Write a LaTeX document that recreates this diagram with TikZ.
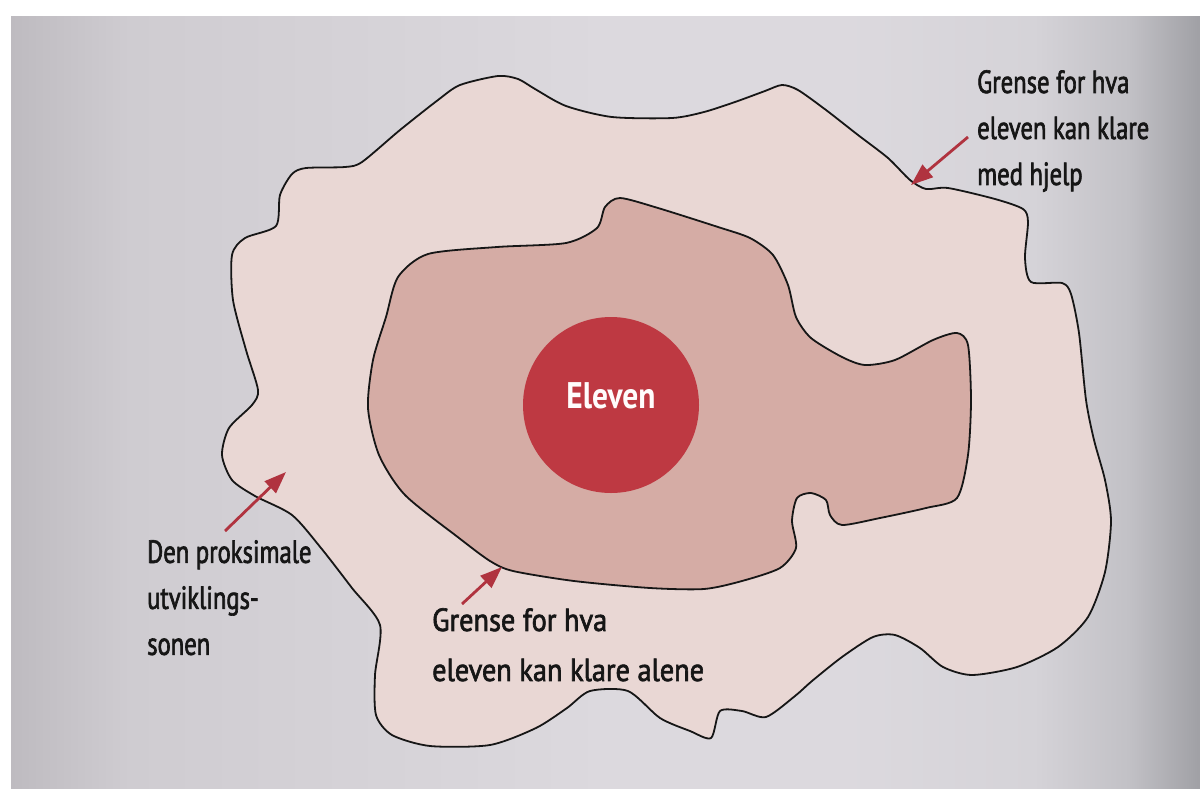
\documentclass[tikz,border=0pt]{standalone}
\usepackage{fontspec}
\setmainfont{PT Sans}[FakeStretch=0.77, FakeBold=2]
\newfontfamily\widelbl{PT Sans}[FakeStretch=0.885, FakeBold=2]
\newfontfamily\elevfont{PT Sans Bold}[FakeStretch=0.85]
\usetikzlibrary{arrows.meta}
\definecolor{pgA}{HTML}{BEBBC0}
\definecolor{pgB}{HTML}{CFCCD1}
\definecolor{pgC}{HTML}{DCD9DE}
\definecolor{pgC2}{HTML}{D5D3D8}
\definecolor{pgD}{HTML}{C2C1C6}
\definecolor{pgE}{HTML}{A0A0A5}
\definecolor{outerpink}{HTML}{E9D7D4}
\definecolor{innerpink}{HTML}{D5ACA5}
\definecolor{elevred}{HTML}{BE3942}
\definecolor{arrowred}{HTML}{B0333F}
\definecolor{inkc}{HTML}{161616}
\pgfdeclarehorizontalshading{pageshade}{100bp}{
  color(0bp)=(pgA); color(25bp)=(pgA); color(30bp)=(pgB); color(50bp)=(pgC); color(60bp)=(pgC);
  color(68bp)=(pgC2); color(72bp)=(pgD); color(75bp)=(pgE); color(100bp)=(pgE)}
\tikzset{
  blob/.style={draw=inkc, line width=1.8pt, line join=round},
  lbl/.style={font=\fontsize{32}{46}\selectfont, align=left, inner sep=0pt, text=inkc},
  widelabel/.style={font=\fontsize{32}{50}\widelbl, align=left, inner sep=0pt, text=inkc},
  pointer/.style={draw=arrowred, line width=2.8pt, -{Triangle[length=22pt,width=16pt]}}
}
\begin{document}
\begin{tikzpicture}[x=1pt,y=-1pt]
\useasboundingbox (0,0) rectangle (1200,788);
\fill[white] (0,0) rectangle (1200,788);
% page
\shade[shading=pageshade] (11,16) rectangle (1200,788);
% outer zone
\draw[blob, fill=outerpink] plot[smooth cycle, tension=0.45] coordinates {
(232,255) (245,238) (276,226) (280,195) (292,174) (306,168) (345,167) (362,162)
(400,130) (438,100) (460,85) (498,76) (518,79) (535,89) (566,106) (612,117)
(672,118) (704,112) (735,102) (765,91) (782,85) (798,90) (826,110) (858,135)
(888,158) (910,180) (926,189) (948,188) (995,199) (1023,209) (1028,222) (1025,258)
(1031,282) (1062,283) (1071,294) (1079,333) (1086,400) (1094,440) (1105,480) (1111,521)
(1105,572) (1088,617) (1058,647) (1017,667) (972,675) (943,667) (920,648) (895,635)
(873,637) (842,657) (812,681) (795,696) (766,717) (742,711) (720,711) (711,738)
(690,731) (660,718) (628,691) (590,691) (567,708) (536,728) (490,745) (430,746)
(392,735) (376,715) (375,675) (380,625) (352,588) (321,548) (292,515) (255,496)
(232,480) (222,455) (229,428) (252,405) (258,390) (246,350) (233,300)};
% inner zone
\draw[blob, fill=innerpink] plot[smooth cycle, tension=0.45] coordinates {
(398,277) (428,254) (497,247) (566,243) (597,228) (605,207) (620,198) (658,208)
(718,227) (750,238) (773,255) (788,285) (796,317) (811,338) (842,357) (865,365)
(895,360) (933,340) (957,333) (968,345) (971,400) (968,455) (957,498) (926,508)
(880,518) (842,525) (830,515) (826,500) (811,493) (797,498) (792,521) (796,548)
(780,568) (742,581) (704,589) (650,588) (574,581) (513,571) (490,561) (459,538)
(405,495) (379,455) (368,408) (373,360) (386,317)};
% the pupil
\node[circle, fill=elevred, minimum size=176pt, inner sep=0pt] (elev) at (611,405) {};
\node[font=\fontsize{37}{40}\elevfont, text=white!95!pink, inner sep=0pt] (elevtxt) at (611,396) {Eleven};
% labels
\node[lbl, anchor=north west] (help) at (977,70) {Grense for hva\\eleven kan klare\\med hjelp};
\node[lbl, anchor=north west] (zpd) at (147,540) {Den proksimale\\utviklings-\\sonen};
\node[widelabel, anchor=north west] (alone) at (432,608) {Grense for hva\\eleven kan klare alene};
% arrow ends
\coordinate (helpA) at (968,137);
\coordinate (helpB) at (911,185);
\coordinate (zpdA) at (225,531);
\coordinate (zpdB) at (286,472);
\coordinate (aloneA) at (462,604);
\coordinate (aloneB) at (502,567);
\draw[pointer] (helpA) -- (helpB);
\draw[pointer] (zpdA) -- (zpdB);
\draw[pointer] (aloneA) -- (aloneB);
\end{tikzpicture}
\end{document}
